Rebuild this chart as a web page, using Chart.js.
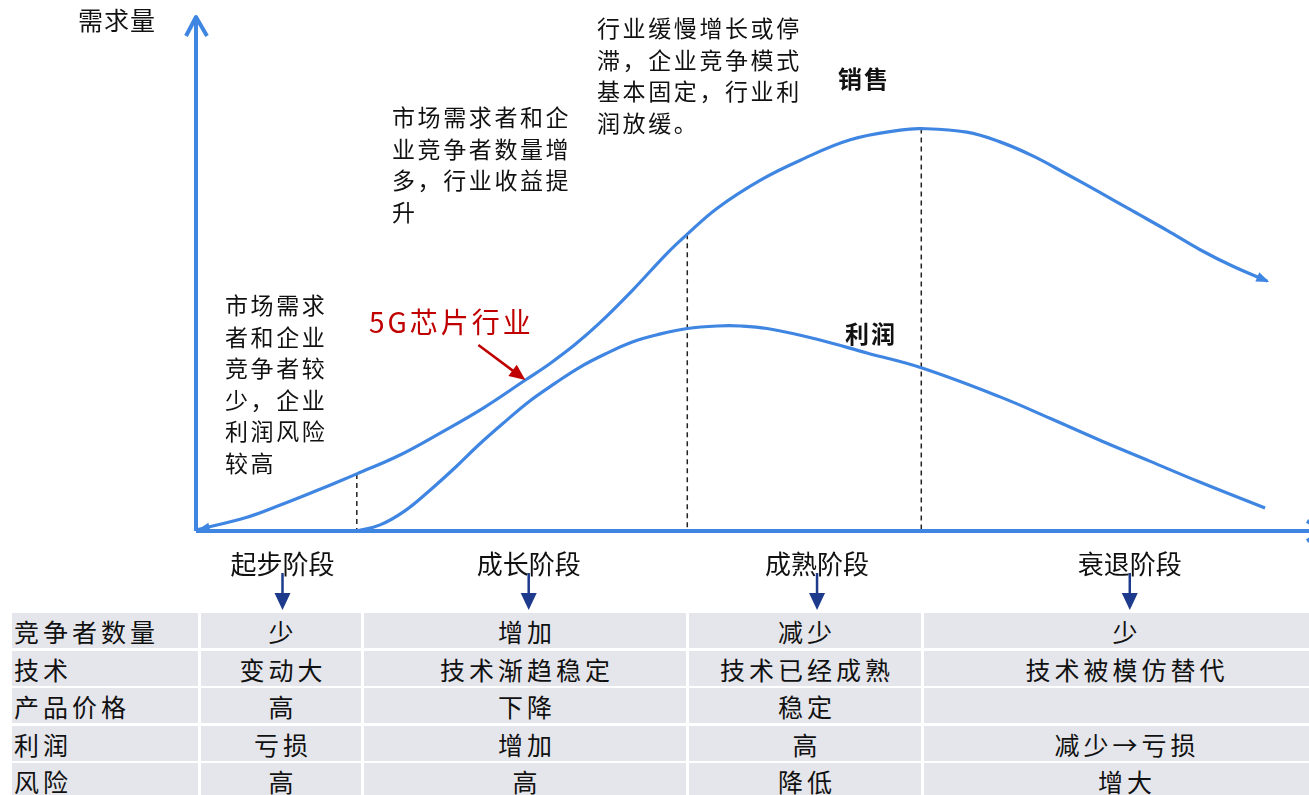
<!DOCTYPE html>
<html lang="zh">
<head>
<meta charset="UTF-8">
<title>5G芯片行业生命周期</title>
<script src="https://cdn.jsdelivr.net/npm/chart.js"></script>
<style>
  body { margin: 0; width: 1309px; height: 795px; overflow: hidden; background: #fff;
         font-family: "Noto Sans CJK SC", "Noto Sans", sans-serif; color: #111; position: relative; }
  #wrap { position: absolute; left: 0; top: 0; width: 1309px; height: 612px; }
  .txt { position: absolute; white-space: nowrap; }
  .note { font-size: 23px; line-height: 31.5px; letter-spacing: 2.6px; }
  .stage { font-size: 26px; line-height: 30px; width: 200px; text-align: center; }
  .bold { font-size: 24px; line-height: 30px; font-weight: bold; letter-spacing: 2px; }
  #tbl { position: absolute; left: 12px; top: 613px; display: grid;
         grid-template-columns: 186px 160px 322px 232px 402px;
         grid-auto-rows: 35px; column-gap: 3px; row-gap: 2.5px; }
  #tbl div { background: #e5e6eb; font-size: 25px; line-height: 36px; letter-spacing: 4px;
             text-align: center; padding-left: 4px; white-space: nowrap; overflow: hidden; }
  #tbl div.head { text-align: left; padding-left: 2px; }
</style>
</head>
<body>
<div id="wrap"><canvas id="lifeChart"></canvas></div>

<div class="txt note" style="left:78px; top:4px; letter-spacing:1px; font-size:25px;">需求量</div>
<div class="txt note" style="left:225px; top:289px;">市场需求<br>者和企业<br>竞争者较<br>少，企业<br>利润风险<br>较高</div>
<div class="txt note" style="left:392px; top:101px;">市场需求者和企<br>业竞争者数量增<br>多，行业收益提<br>升</div>
<div class="txt note" style="left:597px; top:12px;">行业缓慢增长或停<br>滞，企业竞争模式<br>基本固定，行业利<br>润放缓。</div>
<div class="txt bold" style="left:838px; top:63px;">销售</div>
<div class="txt bold" style="left:845px; top:318px;">利润</div>
<div class="txt" style="left:369px; top:304px; font-size:28px; line-height:34px; letter-spacing:3px; color:#c00000;">5G芯片行业</div>
<div id="stageLabels"></div>
<div id="tbl"></div>

<script>
  // curve points (x = time, y = demand)
  var salesX = [0, 4.6, 7.6, 10.5, 13.2, 14.5, 18.3, 22.1, 25.9, 29.7, 31.9, 34.2, 36.4, 39.4, 42.5, 44.3, 47.0, 50.9, 54.5, 59.0, 63.5, 65.4, 69.5, 72.5, 75.5, 78.5, 81.5, 84.5, 87.6, 90.5, 93.5, 96.6];
  var salesY = [0.2, 2.7, 5.1, 7.6, 10.0, 11.2, 14.8, 19.3, 24.1, 29.6, 32.8, 36.6, 40.8, 47.3, 54.5, 58.2, 63.3, 68.8, 72.7, 76.7, 78.6, 78.9, 78.2, 76.3, 73.5, 70.0, 66.4, 62.7, 58.9, 55.2, 51.9, 49.0];
  var profitX = [14.5, 16.6, 18.8, 21.1, 23.4, 25.6, 27.9, 30.1, 32.4, 34.6, 36.9, 39.4, 41.8, 44.3, 47.0, 49.1, 51.5, 56.0, 60.5, 65.4, 72.5, 77.0, 81.5, 86.0, 90.5, 96.4];
  var profitY = [0, 1.2, 3.9, 8.0, 12.5, 17.1, 21.5, 25.5, 29.0, 32.1, 34.7, 37.1, 38.6, 39.7, 40.2, 40.2, 39.7, 37.6, 34.9, 32.0, 26.3, 22.1, 17.8, 13.7, 9.6, 4.5];

  // stage boundaries and stage centres on the x axis
  var stageBounds = [14.5, 44.3, 65.4];
  var stageMid = [7.8, 30.0, 56.0, 84.2];
  var stages = ['起步阶段', '成长阶段', '成熟阶段', '衰退阶段'];

  // table below the chart
  var features = ['竞争者数量', '技术', '产品价格', '利润', '风险'];
  var startUp = ['少', '变动大', '高', '亏损', '高'];
  var growth = ['增加', '技术渐趋稳定', '下降', '增加', '高'];
  var mature = ['减少', '技术已经成熟', '稳定', '高', '降低'];
  var decline = ['少', '技术被模仿替代', '', '减少→亏损', '增大'];

  var blue = '#3f85e2';
  var pointerAt = { x: 29.7, y: 29.6 };

  function toPts(xs, ys) {
    return xs.map(function (x, i) { return { x: x, y: ys[i] }; });
  }

  function arrowHead(ctx, x, y, ang, len, half, color) {
    ctx.save();
    ctx.translate(x, y);
    ctx.rotate(ang);
    ctx.fillStyle = color;
    ctx.beginPath();
    ctx.moveTo(0, 0);
    ctx.lineTo(-len, -half);
    ctx.lineTo(-len, half);
    ctx.closePath();
    ctx.fill();
    ctx.restore();
  }

  var overlay = {
    id: 'overlay',
    beforeDatasetsDraw: function (chart) {
      var ctx = chart.ctx, xs = chart.scales.x, ys = chart.scales.y;
      var x0 = xs.getPixelForValue(0), y0 = ys.getPixelForValue(0);
      ctx.save();
      // dashed stage boundaries up to the sales curve
      ctx.strokeStyle = '#222';
      ctx.lineWidth = 1.5;
      ctx.setLineDash([5, 4]);
      stageBounds.forEach(function (b) {
        var i = salesX.indexOf(b);
        var px = xs.getPixelForValue(b);
        ctx.beginPath();
        ctx.moveTo(px, ys.getPixelForValue(salesY[i]));
        ctx.lineTo(px, y0);
        ctx.stroke();
      });
      ctx.setLineDash([]);
      // axes with open arrow tips
      ctx.strokeStyle = blue;
      ctx.lineWidth = 4;
      ctx.lineJoin = 'round';
      ctx.beginPath();
      ctx.moveTo(x0, y0);
      ctx.lineTo(x0, chart.chartArea.top - 4);
      ctx.moveTo(x0 - 10, chart.chartArea.top + 15);
      ctx.lineTo(x0, chart.chartArea.top - 4);
      ctx.lineTo(x0 + 11, chart.chartArea.top + 15);
      ctx.stroke();
      ctx.beginPath();
      ctx.moveTo(x0, y0);
      ctx.lineTo(chart.chartArea.right + 20, y0);
      ctx.moveTo(chart.chartArea.right + 2, y0 - 10);
      ctx.lineTo(chart.chartArea.right + 20, y0);
      ctx.lineTo(chart.chartArea.right + 2, y0 + 10);
      ctx.stroke();
      ctx.restore();
    },
    afterDraw: function (chart) {
      var ctx = chart.ctx, xs = chart.scales.x, ys = chart.scales.y;
      var bottom = chart.chartArea.bottom;
      ctx.save();
      // small arrow heads at both ends of the sales curve
      var n = salesX.length;
      var ex = xs.getPixelForValue(salesX[n - 1]), ey = ys.getPixelForValue(salesY[n - 1]);
      var px = xs.getPixelForValue(salesX[n - 2]), py = ys.getPixelForValue(salesY[n - 2]);
      arrowHead(ctx, ex + 2, ey + 1, Math.atan2(ey - py, ex - px), 13, 5, blue);
      var sx = xs.getPixelForValue(salesX[0]), sy = ys.getPixelForValue(salesY[0]);
      var qx = xs.getPixelForValue(salesX[1]), qy = ys.getPixelForValue(salesY[1]);
      arrowHead(ctx, sx, sy + 1, Math.atan2(sy - qy, sx - qx), 14, 5, blue);
      // red pointer to the 5G chip industry position
      var tx = xs.getPixelForValue(pointerAt.x), ty = ys.getPixelForValue(pointerAt.y);
      var ang = Math.atan2(35, 47);
      ctx.strokeStyle = '#c00000';
      ctx.lineWidth = 2.5;
      ctx.beginPath();
      ctx.moveTo(tx - 47, ty - 35);
      ctx.lineTo(tx - 12 * Math.cos(ang), ty - 12 * Math.sin(ang));
      ctx.stroke();
      arrowHead(ctx, tx, ty, ang, 16, 7, '#c00000');
      // navy arrows from stage labels down to the table
      ctx.strokeStyle = '#1d3a8c';
      ctx.lineWidth = 2.5;
      stageMid.forEach(function (m) {
        var ax = xs.getPixelForValue(m);
        ctx.beginPath();
        ctx.moveTo(ax, bottom + 42);
        ctx.lineTo(ax, bottom + 66);
        ctx.stroke();
        arrowHead(ctx, ax, bottom + 79, Math.PI / 2, 17, 8, '#1d3a8c');
      });
      ctx.restore();
    }
  };

  var ctx = document.getElementById('lifeChart').getContext('2d');
  var lifeChart = new Chart(ctx, {
    type: 'line',
    data: {
      datasets: [
        { label: '销售', data: toPts(salesX, salesY), borderColor: blue, borderWidth: 3.2,
          pointRadius: 0, tension: 0.4, fill: false },
        { label: '利润', data: toPts(profitX, profitY), borderColor: blue, borderWidth: 3.2,
          pointRadius: 0, tension: 0.4, fill: false }
      ]
    },
    options: {
      responsive: true,
      maintainAspectRatio: false,
      animation: false,
      layout: { padding: { left: 196, right: 4, top: 21, bottom: 81 } },
      scales: {
        x: { type: 'linear', min: 0, max: 100, display: false },
        y: { min: 0, max: 100, display: false }
      },
      plugins: { legend: { display: false }, tooltip: { enabled: false } }
    },
    plugins: [overlay]
  });

  // stage labels, placed from the x scale
  var labelBox = document.getElementById('stageLabels');
  stages.forEach(function (s, i) {
    var d = document.createElement('div');
    d.className = 'txt stage';
    d.textContent = s;
    d.style.left = (lifeChart.scales.x.getPixelForValue(stageMid[i]) - 100) + 'px';
    d.style.top = '548px';
    labelBox.appendChild(d);
  });

  // feature table
  var tbl = document.getElementById('tbl');
  features.forEach(function (f, r) {
    [f, startUp[r], growth[r], mature[r], decline[r]].forEach(function (v, c) {
      var cell = document.createElement('div');
      if (c === 0) cell.className = 'head';
      cell.textContent = v;
      tbl.appendChild(cell);
    });
  });
</script>
</body>
</html>
